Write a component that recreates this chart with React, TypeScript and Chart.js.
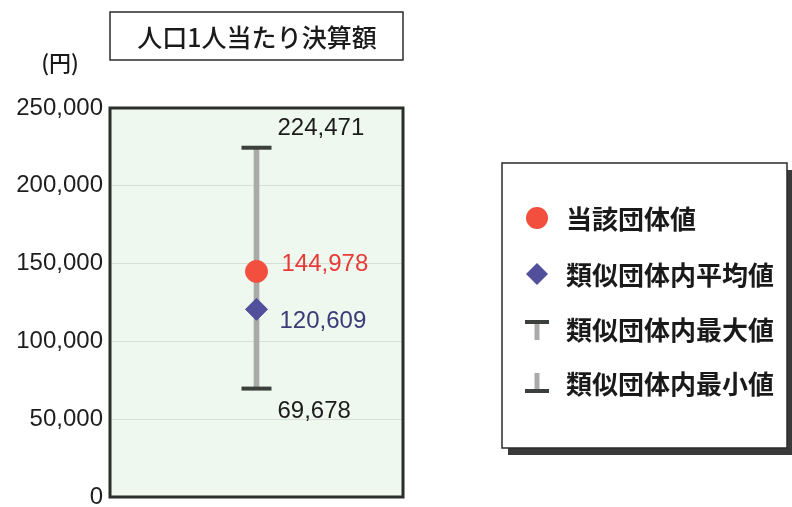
import React, { useEffect, useRef } from "react";
import { Chart, registerables } from "chart.js";

Chart.register(...registerables);

const categories = ["人口1人当たり決算額"];
const ownValues = [144978];
const avgValues = [120609];
const maxValues = [224471];
const minValues = [69678];
const yTickValues = [0, 50000, 100000, 150000, 200000, 250000];

const chartTitle = "人口1人当たり決算額";
const unitLabel = "(円)";
const legendLabels = ["当該団体値", "類似団体内平均値", "類似団体内最大値", "類似団体内最小値"];

const RED = "#f24f3f";
const BLUE = "#524f9c";
const CAP = "#3c403c";
const STEM = "#a9aaa9";
const NUM_FONT = "'Liberation Sans', Arial, sans-serif";
const CJK_FONT = "'Noto Sans CJK JP', sans-serif";

const fmt = (v: number) => v.toLocaleString("en-US");

const decorPlugin = {
  id: "decor",
  beforeDraw(chart: any) {
    const { ctx, chartArea } = chart;
    ctx.save();
    ctx.fillStyle = "#eef8ee";
    ctx.fillRect(chartArea.left, chartArea.top, chartArea.right - chartArea.left, chartArea.bottom - chartArea.top);
    ctx.restore();
  },
  afterDraw(chart: any) {
    const { ctx, chartArea } = chart;
    const x = chart.scales.x;
    const y = chart.scales.y;
    ctx.save();
    ctx.strokeStyle = "#2b2f2b";
    ctx.lineWidth = 3;
    ctx.strokeRect(chartArea.left, chartArea.top, chartArea.right - chartArea.left, chartArea.bottom - chartArea.top);

    const cx = x.getPixelForValue(0);
    ctx.font = `24px ${NUM_FONT}`;
    ctx.textAlign = "left";
    ctx.textBaseline = "middle";
    ctx.fillStyle = "#1c1c1c";
    ctx.fillText(fmt(maxValues[0]), cx + 21, y.getPixelForValue(maxValues[0]) - 19);
    ctx.fillText(fmt(minValues[0]), cx + 21, y.getPixelForValue(minValues[0]) + 23);
    ctx.fillStyle = "#e83a38";
    ctx.fillText(fmt(ownValues[0]), cx + 25, y.getPixelForValue(ownValues[0]) - 7);
    ctx.fillStyle = "#3b3b78";
    ctx.fillText(fmt(avgValues[0]), cx + 23, y.getPixelForValue(avgValues[0]) + 12);

    ctx.fillStyle = "#ffffff";
    ctx.fillRect(110, 12, 293, 48);
    ctx.strokeStyle = "#2b2b2b";
    ctx.lineWidth = 1.5;
    ctx.strokeRect(110, 12, 293, 48);
    ctx.fillStyle = "#1a1a1a";
    ctx.font = `500 25px ${CJK_FONT}`;
    ctx.textAlign = "center";
    ctx.fillText(chartTitle, 257, 37);

    ctx.font = `500 22px ${CJK_FONT}`;
    ctx.textAlign = "center";
    ctx.fillText(unitLabel, 60, 63);

    ctx.fillStyle = "#3a3a3a";
    ctx.fillRect(508, 170, 284, 285);
    ctx.fillStyle = "#ffffff";
    ctx.fillRect(502, 163, 285, 285);
    ctx.strokeStyle = "#2b2b2b";
    ctx.lineWidth = 1.5;
    ctx.strokeRect(502, 163, 285, 285);

    const lx = 537;
    const rows = [218, 274, 329, 383];
    ctx.fillStyle = RED;
    ctx.beginPath();
    ctx.arc(lx, rows[0], 11, 0, Math.PI * 2);
    ctx.fill();
    ctx.fillStyle = BLUE;
    ctx.beginPath();
    ctx.moveTo(lx - 11, rows[1]);
    ctx.lineTo(lx, rows[1] - 11);
    ctx.lineTo(lx + 11, rows[1]);
    ctx.lineTo(lx, rows[1] + 11);
    ctx.closePath();
    ctx.fill();
    ctx.fillStyle = STEM;
    ctx.fillRect(lx - 2.5, rows[2] - 6, 5, 17);
    ctx.fillStyle = CAP;
    ctx.fillRect(lx - 12, rows[2] - 9, 24, 4);
    ctx.fillStyle = STEM;
    ctx.fillRect(lx - 2.5, rows[3] - 10, 5, 17);
    ctx.fillStyle = CAP;
    ctx.fillRect(lx - 12, rows[3] + 6, 24, 4);

    ctx.fillStyle = "#1a1a1a";
    ctx.font = `bold 26px ${CJK_FONT}`;
    ctx.textAlign = "left";
    ctx.textBaseline = "middle";
    legendLabels.forEach((t, i) => ctx.fillText(t, 566, rows[i] + 1));
    ctx.restore();
  },
};

export default function App() {
  const ref = useRef<HTMLCanvasElement>(null);
  useEffect(() => {
    if (!ref.current) return;
    const chart = new Chart(ref.current, {
      type: "bar",
      data: {
        labels: categories,
        datasets: [
          {
            type: "line",
            label: legendLabels[0],
            data: ownValues,
            showLine: false,
            pointStyle: "circle",
            pointRadius: 11,
            pointBackgroundColor: RED,
            pointBorderColor: RED,
            pointBorderWidth: 1,
            order: 0,
          } as any,
          {
            type: "line",
            label: legendLabels[1],
            data: avgValues,
            showLine: false,
            pointStyle: "rectRot",
            pointRadius: 11,
            pointBackgroundColor: BLUE,
            pointBorderColor: BLUE,
            pointBorderWidth: 1,
            order: 1,
          } as any,
          {
            type: "line",
            label: legendLabels[2],
            data: maxValues,
            showLine: false,
            pointStyle: "line",
            pointRadius: 15,
            pointBorderColor: CAP,
            pointBorderWidth: 4,
            order: 2,
          } as any,
          {
            type: "line",
            label: legendLabels[3],
            data: minValues,
            showLine: false,
            pointStyle: "line",
            pointRadius: 15,
            pointBorderColor: CAP,
            pointBorderWidth: 4,
            order: 3,
          } as any,
          {
            type: "bar",
            label: "range",
            data: minValues.map((m, i) => [m, maxValues[i]]),
            backgroundColor: STEM,
            barThickness: 5,
            order: 4,
          } as any,
        ],
      },
      options: {
        animation: false,
        responsive: true,
        maintainAspectRatio: false,
        layout: { padding: { left: 0, top: 108, right: 389, bottom: 23 } },
        plugins: { legend: { display: false }, tooltip: { enabled: false }, title: { display: false } },
        scales: {
          x: { display: false },
          y: {
            min: 0,
            max: 250000,
            afterFit: (s: any) => {
              s.width = 110;
            },
            afterBuildTicks: (s: any) => {
              s.ticks = yTickValues.map((v) => ({ value: v }));
            },
            ticks: {
              padding: 7,
              color: "#1e1e1e",
              font: { family: NUM_FONT, size: 24 },
              callback: (v: any) => fmt(Number(v)),
            },
            grid: { color: "#d6dfd6", lineWidth: 1, drawTicks: false },
            border: { display: false },
          },
        },
      },
      plugins: [decorPlugin],
    });
    return () => chart.destroy();
  }, []);
  return (
    <div style={{ position: "fixed", left: 0, top: 0, width: 792, height: 507, overflow: "hidden", background: "#fff" }}>
      <div style={{ position: "absolute", left: 0, top: 0, width: 792, height: 520 }}>
        <canvas ref={ref} />
      </div>
    </div>
  );
}
